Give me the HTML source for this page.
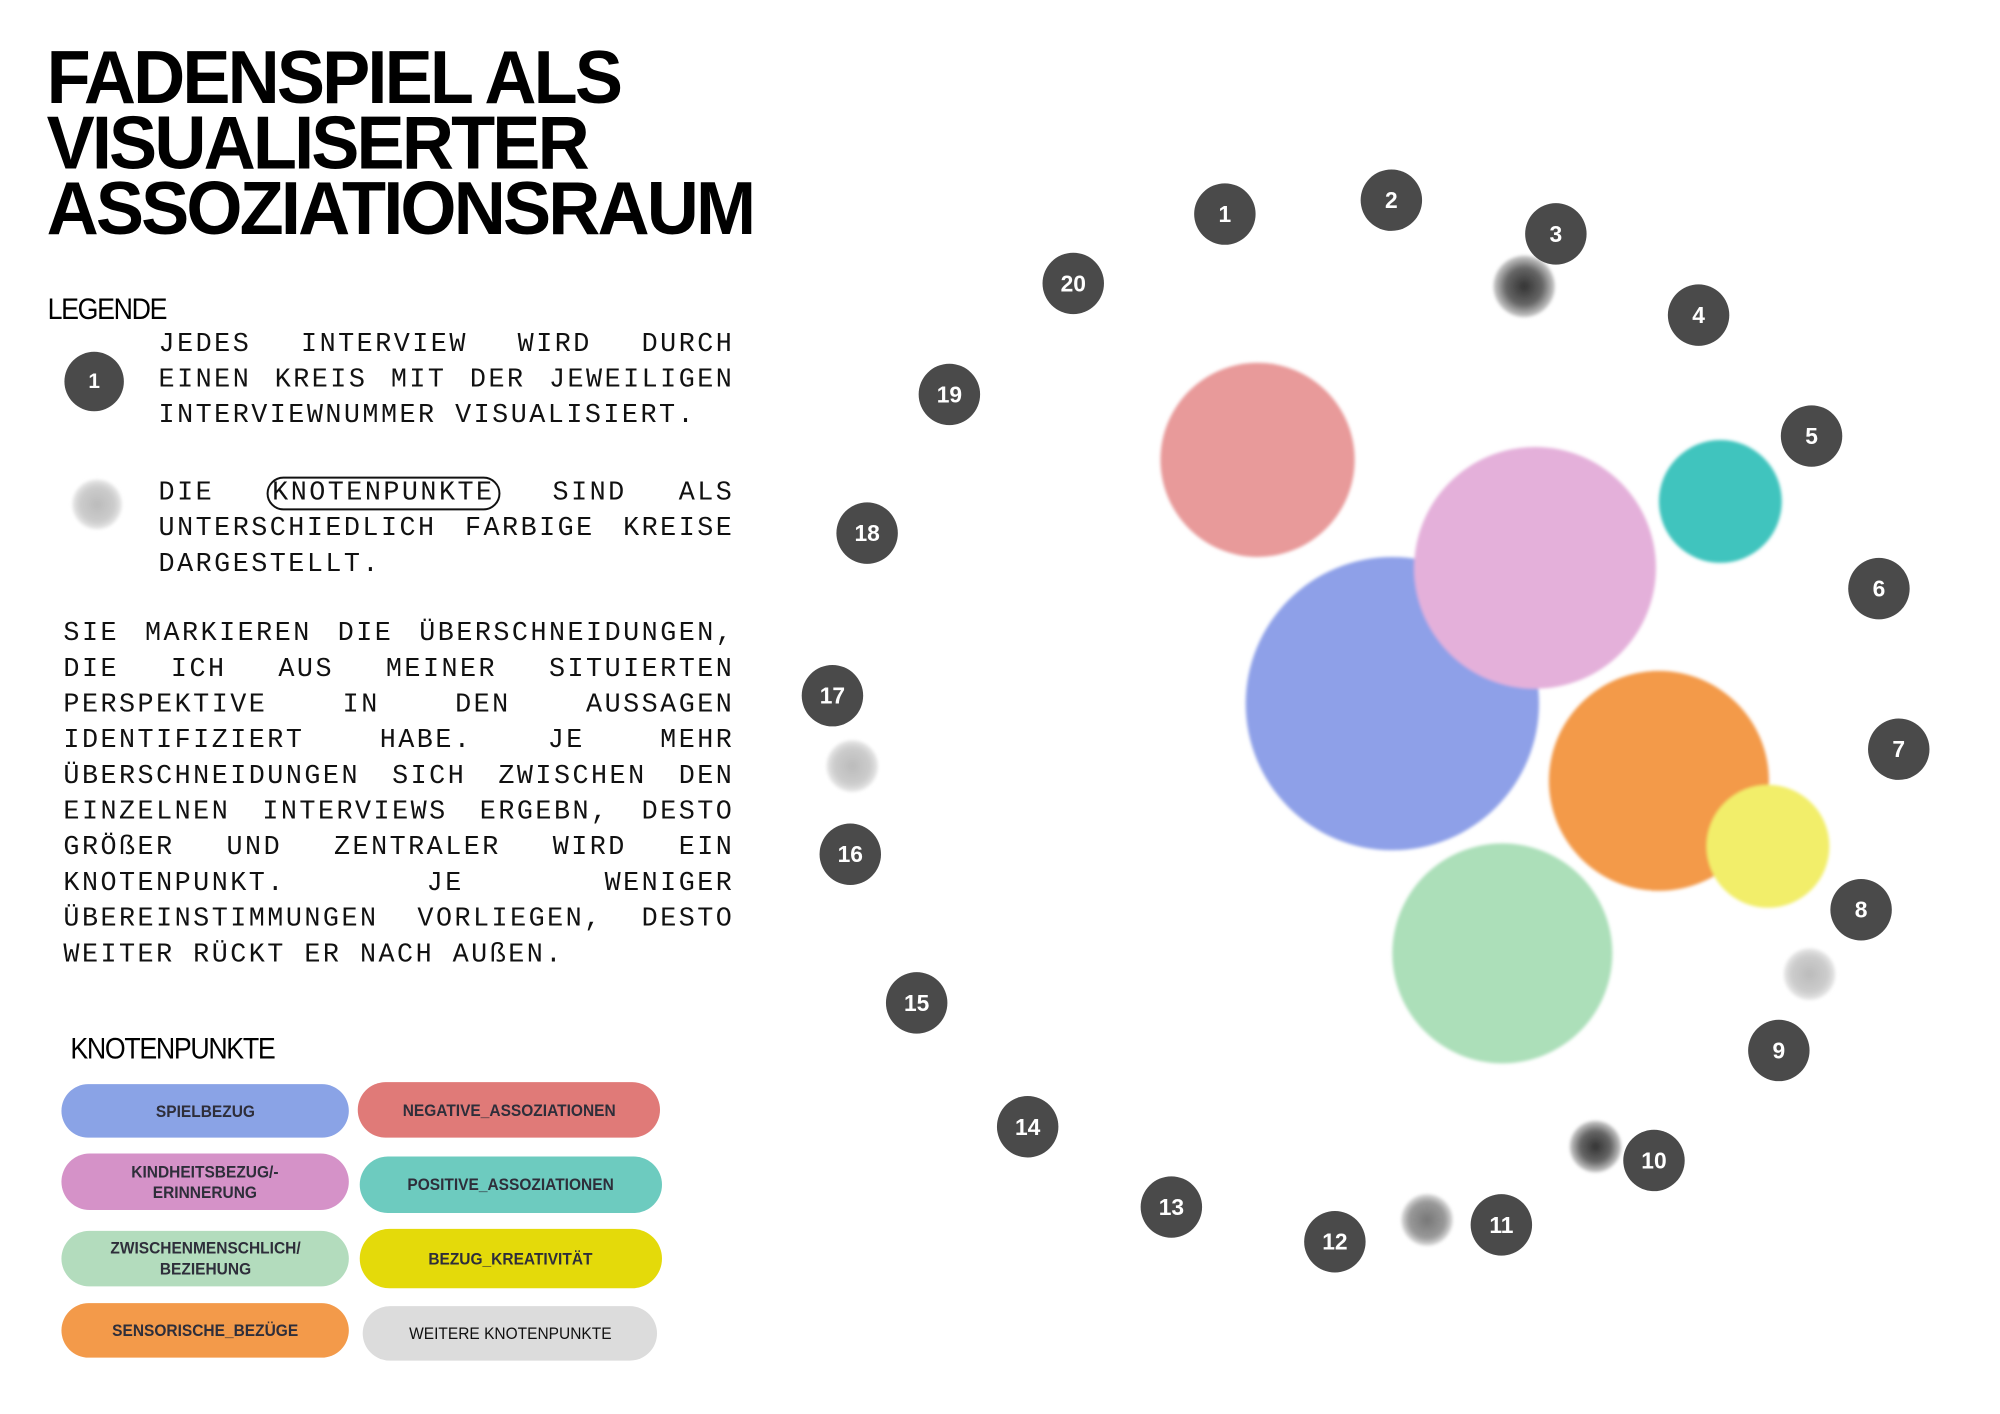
<!DOCTYPE html>
<html><head><meta charset="utf-8">
<style>
html,body{margin:0;padding:0;background:#fff;}
body{width:2000px;height:1414px;position:relative;overflow:hidden;font-family:"Liberation Sans",sans-serif;}
#w{position:absolute;left:0;top:0;width:2000px;height:1414px;transform:scale(0.991);transform-origin:0 0;}
.title{position:absolute;left:47px;top:46px;font-weight:bold;font-size:76px;line-height:66px;letter-spacing:-3px;color:#000;transform-origin:0 0;transform:scaleX(0.958);white-space:nowrap;}
.h2{position:absolute;font-size:30px;letter-spacing:-1.5px;color:#000;transform:scaleX(0.9);transform-origin:0 0;}
.mono{position:absolute;font-family:"Liberation Mono",monospace;font-size:27px;letter-spacing:2.5px;line-height:36px;color:#111;text-align:justify;text-align-last:left;}
.pill{position:absolute;border-radius:30px;display:flex;align-items:center;justify-content:center;text-align:center;font-weight:bold;font-size:17px;line-height:21px;color:#2e2e3a;}
.pill span{display:inline-block;transform:scaleX(0.92);}
</style></head><body><div id="w">
<div class="title">FADENSPIEL ALS<br>VISUALISERTER<br>ASSOZIATIONSRAUM</div>
<div class="h2" style="left:48px;top:296px;">LEGENDE</div>
<div class="mono" style="left:160px;top:330px;width:581px;">JEDES INTERVIEW WIRD DURCH EINEN KREIS MIT DER JEWEILIGEN INTERVIEWNUMMER VISUALISIERT.</div>
<div class="mono" style="left:160px;top:480px;width:581px;">DIE <span style="border:2px solid #111;border-radius:18px;padding:0 4px;">KNOTENPUNKTE</span> SIND ALS UNTERSCHIEDLICH FARBIGE KREISE DARGESTELLT.</div>
<div class="mono" style="left:64px;top:622px;width:677px;">SIE MARKIEREN DIE ÜBERSCHNEIDUNGEN, DIE ICH AUS MEINER SITUIERTEN PERSPEKTIVE IN DEN AUSSAGEN IDENTIFIZIERT HABE. JE MEHR ÜBERSCHNEIDUNGEN SICH ZWISCHEN DEN EINZELNEN INTERVIEWS ERGEBN, DESTO GRÖßER UND ZENTRALER WIRD EIN KNOTENPUNKT. JE WENIGER ÜBEREINSTIMMUNGEN VORLIEGEN, DESTO WEITER RÜCKT ER NACH AUßEN.</div>
<div class="h2" style="left:71px;top:1042px;">KNOTENPUNKTE</div>

<div class="pill" style="left:62px;top:1094px;width:290px;height:54px;background:#8aa3e6;"><span>SPIELBEZUG</span></div>
<div class="pill" style="left:361px;top:1092px;width:305px;height:56px;background:#e07a78;"><span>NEGATIVE_ASSOZIATIONEN</span></div>
<div class="pill" style="left:62px;top:1164px;width:290px;height:57px;background:#d592c8;"><span>KINDHEITSBEZUG/-<br>ERINNERUNG</span></div>
<div class="pill" style="left:363px;top:1167px;width:305px;height:57px;background:#6dcbbf;"><span>POSITIVE_ASSOZIATIONEN</span></div>
<div class="pill" style="left:62px;top:1242px;width:290px;height:56px;background:#b3dcbd;"><span>ZWISCHENMENSCHLICH/<br>BEZIEHUNG</span></div>
<div class="pill" style="left:363px;top:1240px;width:305px;height:60px;background:#e4da0a;"><span>BEZUG_KREATIVITÄT</span></div>
<div class="pill" style="left:62px;top:1315px;width:290px;height:55px;background:#f39a4a;"><span>SENSORISCHE_BEZÜGE</span></div>
<div class="pill" style="left:366px;top:1318px;width:297px;height:55px;background:#dcdcdc;font-weight:normal;color:#111;"><span>WEITERE KNOTENPUNKTE</span></div>

<svg width="2000" height="1414" style="position:absolute;left:0;top:0;" xmlns="http://www.w3.org/2000/svg">
<defs>
<filter id="b" x="-20%" y="-20%" width="140%" height="140%"><feGaussianBlur stdDeviation="1.5"/></filter>
<radialGradient id="gd"><stop offset="0" stop-color="#333"/><stop offset="0.6" stop-color="#666"/><stop offset="1" stop-color="#ccc"/></radialGradient>
<radialGradient id="gl"><stop offset="0" stop-color="#bbb"/><stop offset="0.7" stop-color="#ccc"/><stop offset="1" stop-color="#e8e8e8"/></radialGradient>
<radialGradient id="gm"><stop offset="0" stop-color="#777"/><stop offset="0.7" stop-color="#999"/><stop offset="1" stop-color="#ddd"/></radialGradient>
</defs>
<g filter="url(#b)">
<circle cx="1269" cy="464" r="98" fill="#e89a9a"/>
<circle cx="1405" cy="710" r="148" fill="#8ea0e8"/>
<circle cx="1549" cy="573" r="122" fill="#e4b0da"/>
<circle cx="1736" cy="506" r="62" fill="#3fc4be"/>
<circle cx="1674" cy="788" r="111" fill="#f39a4a"/>
<circle cx="1784" cy="854" r="62" fill="#f2ee6a"/>
<circle cx="1516" cy="962" r="111" fill="#acdfb9"/>
<circle cx="98" cy="509" r="25" fill="url(#gl)"/>
<circle cx="1538" cy="289" r="31" fill="url(#gd)"/>
<circle cx="860" cy="773" r="26" fill="url(#gl)"/>
<circle cx="1826" cy="983" r="26" fill="url(#gl)"/>
<circle cx="1610" cy="1157" r="26" fill="url(#gd)"/>
<circle cx="1440" cy="1231" r="26" fill="url(#gm)"/>
</g>
<g fill="#4a4a4a">
<circle cx="95" cy="385" r="30"/>
<circle cx="1236" cy="216" r="31"/><circle cx="1404" cy="202" r="31"/><circle cx="1570" cy="236" r="31"/><circle cx="1714" cy="318" r="31"/><circle cx="1828" cy="440" r="31"/><circle cx="1896" cy="594" r="31"/><circle cx="1916" cy="756" r="31"/><circle cx="1878" cy="918" r="31"/><circle cx="1795" cy="1060" r="31"/><circle cx="1669" cy="1171" r="31"/><circle cx="1515" cy="1236" r="31"/><circle cx="1347" cy="1253" r="31"/><circle cx="1182" cy="1218" r="31"/><circle cx="1037" cy="1137" r="31"/><circle cx="925" cy="1012" r="31"/><circle cx="858" cy="862" r="31"/><circle cx="840" cy="702" r="31"/><circle cx="875" cy="538" r="31"/><circle cx="958" cy="398" r="31"/><circle cx="1083" cy="286" r="31"/>
</g>
<g fill="#fff" font-family="Liberation Sans, sans-serif" font-weight="bold" font-size="23" text-anchor="middle" dominant-baseline="central">
<text x="95" y="385" font-size="21">1</text>
<text x="1236" y="216">1</text><text x="1404" y="202">2</text><text x="1570" y="236">3</text><text x="1714" y="318">4</text><text x="1828" y="440">5</text><text x="1896" y="594">6</text><text x="1916" y="756">7</text><text x="1878" y="918">8</text><text x="1795" y="1060">9</text><text x="1669" y="1171">10</text><text x="1515" y="1236">11</text><text x="1347" y="1253">12</text><text x="1182" y="1218">13</text><text x="1037" y="1137">14</text><text x="925" y="1012">15</text><text x="858" y="862">16</text><text x="840" y="702">17</text><text x="875" y="538">18</text><text x="958" y="398">19</text><text x="1083" y="286">20</text>
</g>
</svg>
</div></body></html>
